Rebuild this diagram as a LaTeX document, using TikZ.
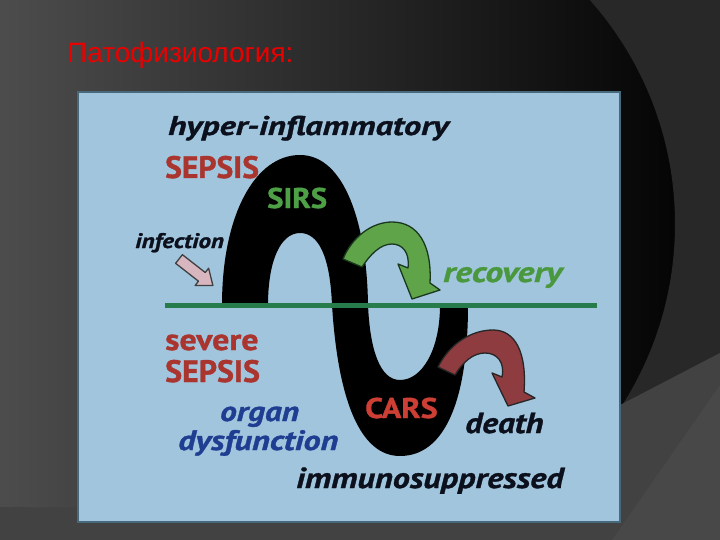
\documentclass[tikz,border=0pt]{standalone}
\usepackage{fontspec}
\newfontfamily\diagfont{PT Sans}
\newfontfamily\titlefont{Liberation Sans}
\newcommand{\txtsize}[1]{\fontsize{#1}{#1}\selectfont}
\definecolor{panelblue}{RGB}{160,197,221}
\definecolor{paneledge}{RGB}{72,104,124}
\definecolor{sepsisred}{RGB}{170,52,46}
\definecolor{carsred}{RGB}{205,62,52}
\definecolor{sirsgreen}{RGB}{78,160,70}
\definecolor{recgreen}{RGB}{74,152,62}
\definecolor{organblue}{RGB}{32,62,145}
\definecolor{inkblack}{RGB}{12,16,28}
\definecolor{linegreen}{RGB}{38,124,74}
\definecolor{arrgreen}{RGB}{96,164,74}
\definecolor{arrgreenedge}{RGB}{26,56,30}
\definecolor{arrred}{RGB}{142,60,64}
\definecolor{arrpink}{RGB}{216,182,192}
\definecolor{titlered}{RGB}{235,0,0}
\definecolor{bgright}{RGB}{40,40,40}
\definecolor{bgband}{RGB}{66,66,66}
\definecolor{bgwedge}{RGB}{72,72,72}
\tikzset{
  lbl/.style 2 args={inner sep=0pt,anchor=base west,
    font=\diagfont\bfseries\txtsize{#1}\addfontfeature{FakeStretch=#2,FakeBold=1.2}},
  itl/.style 2 args={inner sep=0pt,anchor=base west,
    font=\diagfont\bfseries\itshape\txtsize{#1}\addfontfeature{FakeStretch=#2,FakeBold=1.2}},
  blockarrow/.style={line width=1.3pt,line join=round}
}
\begin{document}
\begin{tikzpicture}[x=1pt,y=-1pt]
\useasboundingbox(0,0) rectangle (720,540);
% slide background
\shade[left color=black!70,right color=black](0,0) rectangle (720,540);
\begin{scope}
\clip(460,0) rectangle (720,540);
\fill[bgright,even odd rule](0,0) rectangle (720,540) (338,224) circle (337);
\end{scope}
\fill[bgband](0,507)--(620,512)--(620,405)--(720,353)--(720,540)--(0,540)--cycle;
\fill[bgwedge](612,540)--(720,385)--(720,540)--cycle;
\node[anchor=base west,inner sep=0pt,text=titlered,font=\titlefont\txtsize{28}](title) at (67,63){Патофизиология:};
% panel
\filldraw[fill=panelblue,draw=paneledge,line width=1.2pt](78,92) rectangle (620,522);
% the S band
\fill[black](222,305) .. controls (222,215) and (255,155) .. (300,155)
  .. controls (345,155) and (367,225) .. (368,305)
  .. controls (370,350) and (380,380) .. (400,380)
  .. controls (422,380) and (440,350) .. (440,305)
  --(468,305)
  .. controls (468,400) and (445,456) .. (400,456)
  .. controls (360,456) and (338,400) .. (332,305)
  .. controls (330,255) and (318,233) .. (300,233)
  .. controls (280,233) and (268,262) .. (268,305)--cycle;
\draw[linegreen,line width=5pt](165,305)--(597,305);
% arrows
\filldraw[blockarrow,fill=arrgreen,draw=arrgreenedge](343,259) .. controls (352,237) and (372,222) .. (392,222)
  .. controls (418,222) and (432,245) .. (430,283)
  --(440,290)--(412,299)--(398,264)--(408,268)
  .. controls (410,252) and (402,244) .. (392,244)
  .. controls (380,244) and (370,255) .. (362,267)--cycle;
\filldraw[blockarrow,fill=arrred,draw=black!85](438,367) .. controls (450,343) and (472,330) .. (493,330)
  .. controls (515,330) and (527,352) .. (524,392)
  --(535,398)--(508,406)--(492,373)--(502,377)
  .. controls (505,362) and (497,353) .. (485,353)
  .. controls (473,353) and (463,362) .. (455,375)--cycle;
\begin{scope}[shift={(179,259)},rotate=-38]
\filldraw[blockarrow,fill=arrpink,draw=black!75](0,-5.5)--(29,-5.5)--(29,-11)--(43,0)--(29,11)--(29,5.5)--(0,5.5)--cycle;
\end{scope}
% labels
\node[itl={27}{1.28},text=inkblack](hyper) at (168,135){hyper-inflammatory};
\node[lbl={31}{1.02},text=sepsisred](sepsisA) at (165,178){SEPSIS};
\node[lbl={28.5}{1.08},text=sirsgreen](sirs) at (267,208){SIRS};
\node[itl={21}{1.19},text=inkblack](infection) at (135,248){infection};
\node[itl={29}{1.22},text=recgreen](recovery) at (443,282){recovery};
\node[lbl={30}{1.13},text=sepsisred](severe) at (165,350){severe};
\node[lbl={31}{1.03},text=sepsisred](sepsisB) at (165,382){SEPSIS};
\node[itl={28}{1.19},text=organblue](organ) at (220,421){organ};
\node[itl={28}{1.22},text=organblue](dysfunction) at (178,450){dysfunction};
\node[lbl={28.5}{1.13},text=carsred](cars) at (365,418){CARS};
\node[itl={29}{1.16},text=inkblack](death) at (465,433){death};
\node[itl={29}{1.18},text=inkblack](immuno) at (296,488){immunosuppressed};
\end{tikzpicture}
\end{document}
